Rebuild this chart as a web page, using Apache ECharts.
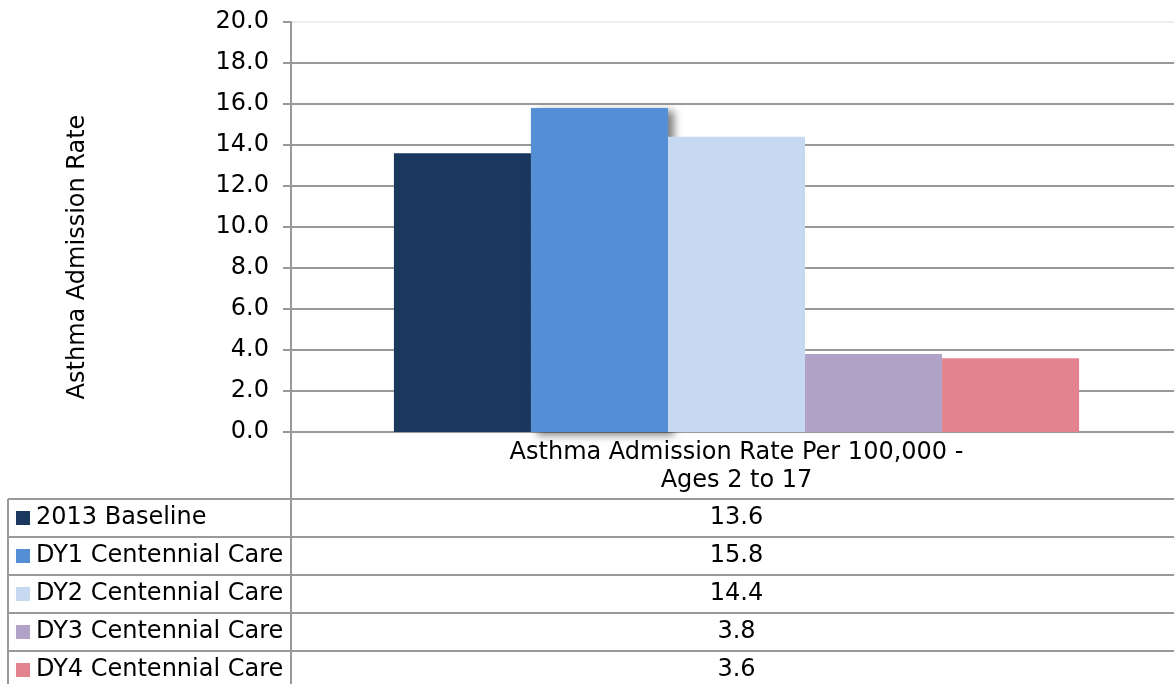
<!DOCTYPE html>
<html>
<head>
<meta charset="utf-8">
<script src="https://cdn.jsdelivr.net/npm/echarts@6/dist/echarts.min.js"></script>
<style>
html,body{margin:0;padding:0;background:#fff;overflow:hidden;width:1174px;height:684px;}
#chart{width:1182px;height:684px;}
</style>
</head>
<body>
<div id="chart"></div>
<script>
const categories = ['Asthma Admission Rate Per 100,000 -\nAges 2 to 17'];
const seriesNames = ['2013 Baseline','DY1 Centennial Care','DY2 Centennial Care','DY3 Centennial Care','DY4 Centennial Care'];
const seriesValues = [[13.6],[15.8],[14.4],[3.8],[3.6]];
const seriesColors = ['#1a385e','#548ed5','#c6d9f0','#b1a2c8','#e48390'];
const yTicks = [0,2,4,6,8,10,12,14,16,18,20];
const yAxisTitle = 'Asthma Admission Rate';

const FONT = 'DejaVu Sans';
const FS = 24;
const chart = echarts.init(document.getElementById('chart'));

// table layout
const tableTop = 499, rowH = 38, tableLeft = 8, colX = 291, tableRight = 1182, valCenter = 736.5;
const gridColor = '#999';
const graphics = [];
graphics.push({type:'text', x:78, y:257, rotation:Math.PI/2, style:{text:yAxisTitle, font:FS+'px "'+FONT+'"', fill:'#000', align:'center', textAlign:'center', verticalAlign:'middle', textVerticalAlign:'middle'}, z:10});
graphics.push({type:'line', shape:{x1:colX,y1:432,x2:colX,y2:684}, style:{stroke:gridColor,lineWidth:2}, z:10});
graphics.push({type:'line', shape:{x1:tableLeft,y1:tableTop,x2:tableLeft,y2:684}, style:{stroke:gridColor,lineWidth:2}, z:10});
for (let i = 0; i < seriesNames.length; i++) {
  const y = tableTop + i*rowH;
  graphics.push({type:'line', shape:{x1:tableLeft,y1:y,x2:tableRight,y2:y}, style:{stroke:gridColor,lineWidth:2}, z:10});
  const cy = y + rowH/2;
  graphics.push({type:'rect', shape:{x:16,y:cy-7,width:14,height:14}, style:{fill:seriesColors[i]}, z:10});
  graphics.push({type:'text', x:36, y:cy, style:{text:seriesNames[i], font:FS+'px "'+FONT+'"', fill:'#000', textVerticalAlign:'middle', verticalAlign:'middle'}, z:10});
  graphics.push({type:'text', x:valCenter, y:cy, style:{text:seriesValues[i][0].toFixed(1), font:FS+'px "'+FONT+'"', fill:'#000', align:'center', textAlign:'center', verticalAlign:'middle', textVerticalAlign:'middle'}, z:10});
}

const splitColors = yTicks.map((t,i)=> i === yTicks.length-1 ? '#eeeeee' : '#999999');

chart.setOption({
  animation:false,
  textStyle:{fontFamily:FONT},
  grid:{left:291, right:0, top:22, bottom:252, containLabel:false},
  xAxis:{
    type:'category', data:categories,
    axisLine:{lineStyle:{color:gridColor,width:2}},
    axisTick:{show:false},
    axisLabel:{color:'#000', fontSize:FS, fontFamily:FONT, lineHeight:28, margin:7}
  },
  yAxis:{
    type:'value', min:0, max:20, interval:2,
    axisLine:{show:true, lineStyle:{color:gridColor,width:2}},
    axisTick:{show:true, length:8, lineStyle:{color:gridColor,width:2}},
    axisLabel:{color:'#000', fontSize:FS, fontFamily:FONT, margin:22, formatter:v=>v.toFixed(1)},
    splitLine:{show:true, lineStyle:{color:splitColors, width:2}}
  },
  series: seriesNames.map((n,i)=>({
    name:n, type:'bar', data:seriesValues[i],
    barGap:'0%', barCategoryGap:'23.1%',
    itemStyle: i === 1
      ? {color:seriesColors[i], shadowColor:'rgba(0,0,0,0.5)', shadowBlur:8, shadowOffsetX:6, shadowOffsetY:3}
      : {color:seriesColors[i]}
  })),
  graphic:graphics
});
</script>
</body>
</html>
